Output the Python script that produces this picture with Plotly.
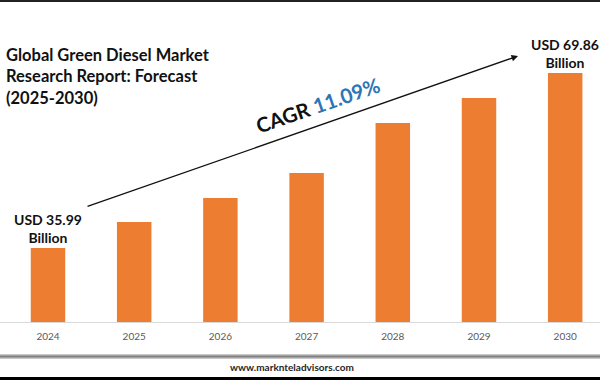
import plotly.graph_objects as go

years = ["2024", "2025", "2026", "2027", "2028", "2029", "2030"]
values = [35.99, 41.02, 45.67, 50.51, 60.18, 65.02, 69.86]
start_label = "USD 35.99<br>Billion"
end_label = "USD 69.86<br>Billion"
title_text = "Global Green Diesel Market<br>Research Report: Forecast<br>(2025-2030)"
cagr_text = "CAGR <span style='color:#2E75B6'>11.09%</span>"
footer_text = "www.marknteladvisors.com"

FONT = "Lato"
W, H = 600, 380
PLOT_BOTTOM = 322  # px from top
def py(p):
    return (PLOT_BOTTOM - p) / PLOT_BOTTOM

fig = go.Figure()
fig.add_trace(go.Bar(
    x=list(range(len(years))), y=values,
    marker=dict(color="#ED7D31", line=dict(width=0)),
    width=0.4, hoverinfo="skip",
))

annotations = [
    dict(text=title_text, x=4 / W, y=py(76), xref="paper", yref="paper",
         xanchor="left", yanchor="middle", align="left", showarrow=False,
         font=dict(family=FONT, size=16.5, color="#111111", weight="bold")),
    dict(text=start_label, x=0, y=values[0], xref="x", yref="y",
         xanchor="center", yanchor="bottom", showarrow=False, yshift=0,
         font=dict(family=FONT, size=14, color="#111111", weight="bold")),
    dict(text=end_label, x=len(years) - 1, y=values[-1], xref="x", yref="y",
         xanchor="center", yanchor="bottom", showarrow=False, yshift=0,
         font=dict(family=FONT, size=14, color="#111111", weight="bold")),
    dict(text=cagr_text, x=318 / W, y=py(105), xref="paper", yref="paper",
         xanchor="center", yanchor="middle", showarrow=False, textangle=-19,
         font=dict(family=FONT, size=20.5, color="#111111", weight="bold")),
    dict(text="", x=518 / W, y=py(56), xref="paper", yref="paper",
         ax=86 - 518, ay=207 - 56, axref="pixel", ayref="pixel",
         showarrow=True, arrowhead=2, arrowsize=1, arrowwidth=1.3,
         arrowcolor="#111111"),
    dict(text=footer_text, x=292 / W, y=py(367), xref="paper", yref="paper",
         xanchor="center", yanchor="middle", showarrow=False,
         font=dict(family=FONT, size=10, color="#262626", weight="bold")),
]

shapes = [
    dict(type="rect", xref="paper", yref="paper", x0=0, x1=1,
         y0=py(0), y1=py(2), fillcolor="#222222", line=dict(width=0)),
    dict(type="rect", xref="paper", yref="paper", x0=0, x1=1,
         y0=py(354), y1=py(359), fillcolor="#c8c8c8", line=dict(width=0)),
    dict(type="rect", xref="paper", yref="paper", x0=0, x1=1,
         y0=py(355.5), y1=py(357.5), fillcolor="#808080", line=dict(width=0)),
    dict(type="rect", xref="paper", yref="paper", x0=0, x1=1,
         y0=py(377), y1=py(381), fillcolor="#000000", line=dict(width=0)),
]

px_per_cat = 86.2
r0 = -48 / px_per_cat
r1 = r0 + W / px_per_cat
k = (249 - 74) / (values[-1] - values[0])
v0 = values[0] - 74 / k
vtop = v0 + PLOT_BOTTOM / k

fig.update_layout(
    width=W, height=H,
    margin=dict(l=0, r=0, t=0, b=H - PLOT_BOTTOM, pad=0),
    paper_bgcolor="white", plot_bgcolor="white",
    showlegend=False,
    xaxis=dict(range=[r0, r1], tickmode="array", tickvals=list(range(len(years))),
               ticktext=years, showgrid=False, zeroline=False,
               showline=True, linecolor="#d9d9d9", linewidth=1,
               ticks="", ticklabelstandoff=5,
               tickfont=dict(family=FONT, size=10, color="#595959"),
               fixedrange=True),
    yaxis=dict(range=[v0, vtop], visible=False, showgrid=False, zeroline=False,
               fixedrange=True),
    annotations=annotations,
    shapes=shapes,
)

fig.write_html("out.html", config={"displayModeBar": False},
               post_script="document.body.style.margin='0';document.body.style.overflow='hidden';")
